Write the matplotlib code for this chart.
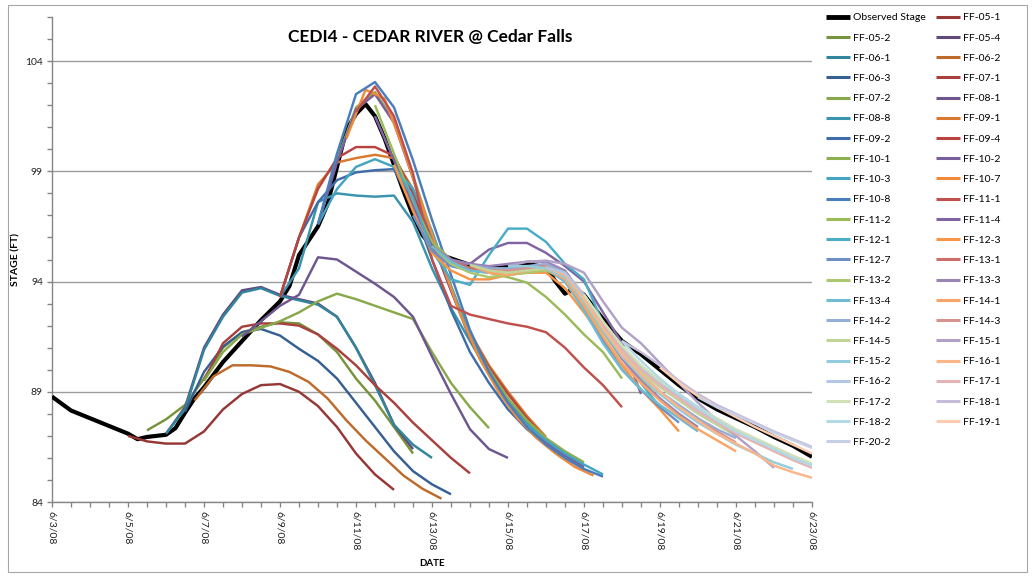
import datetime as dt
import matplotlib
matplotlib.use("Agg")
import matplotlib.pyplot as plt
import matplotlib.dates as mdates
from matplotlib.ticker import FixedLocator, FuncFormatter
from matplotlib.patches import Rectangle

plt.rcParams["font.family"] = ["Lato", "DejaVu Sans"]

# ---------------------------------------------------------------- data
# time axis: days after 6/3/08 00Z
T0 = dt.datetime(2008, 6, 3)
date_ticks_days = [0, 2, 4, 6, 8, 10, 12, 14, 16, 18, 20]
stage_ticks = [84, 89, 94, 99, 104]

obs_days = [0, 0.5, 1, 1.5, 2, 2.25, 2.5, 3, 3.25, 3.5, 3.75, 4, 4.5, 5, 5.5,
            6, 6.25, 6.5, 7, 7.25, 7.5, 7.75, 8, 8.25, 8.5, 8.75, 9, 9.25,
            9.5, 9.75, 10, 10.25, 10.5, 10.75, 11, 11.5, 12, 12.5, 13, 13.25,
            13.5, 13.75, 14, 14.5, 15, 15.5, 16, 16.5, 17, 17.5, 18, 18.5,
            19, 19.5, 20]
obs_stage = [88.78, 88.15, 87.8, 87.45, 87.1, 86.85, 86.95, 87.05, 87.35,
             88.05, 88.7, 89.2, 90.35, 91.3, 92.25, 93.1, 93.8, 95.2, 96.5,
             97.5, 99.2, 100.9, 101.6, 102.05, 101.5, 100.5, 99.3, 98.1,
             97.0, 96.1, 95.6, 95.2, 95.05, 94.9, 94.75, 94.6, 94.7, 94.8,
             94.65, 94.0, 93.45, 93.7, 93.4, 92.3, 91.3, 90.7, 90.0, 89.3,
             88.7, 88.2, 87.8, 87.4, 86.95, 86.55, 86.05]

# forecast runs: first value at ff_start (days after 6/3/08), then every 12 h
ff_names = ["FF-05-1", "FF-05-2", "FF-05-4", "FF-06-1", "FF-06-2", "FF-06-3",
            "FF-07-1", "FF-07-2", "FF-08-1", "FF-08-8", "FF-09-1", "FF-09-2",
            "FF-09-4", "FF-10-1", "FF-10-2", "FF-10-3", "FF-10-7", "FF-10-8",
            "FF-11-1", "FF-11-2", "FF-11-4", "FF-12-1", "FF-12-3", "FF-12-7",
            "FF-13-1", "FF-13-2", "FF-13-3", "FF-13-4", "FF-14-1", "FF-14-2",
            "FF-14-3", "FF-14-5", "FF-15-1", "FF-15-2", "FF-16-1", "FF-16-2",
            "FF-17-1", "FF-17-2", "FF-18-1", "FF-18-2", "FF-19-1", "FF-20-2"]
ff_start = [2.0, 2.5, 3.0, 3.0, 3.75, 3.5,
            4.0, 4.0, 5.0, 6.0, 6.0, 6.0,
            6.0, 7.0, 7.0, 7.0, 7.75, 7.0,
            8.0, 8.5, 8.5, 9.0, 9.0, 9.5,
            10.0, 10.0, 10.0, 10.0, 11.0, 11.0,
            11.0, 11.0, 12.0, 12.0, 13.0, 13.0,
            14.0, 14.0, 15.0, 15.0, 16.0, 17.0]

ff_05_1 = [87.0, 86.75, 86.65, 86.65, 87.2, 88.2, 88.9, 89.3, 89.35, 89.0,
           88.35, 87.4, 86.2, 85.25, 84.55]
ff_05_2 = [87.25, 87.75, 88.4, 89.6, 91.0, 91.7, 91.95, 92.15, 92.1, 91.6,
           90.8, 89.6, 88.6, 87.4, 86.2]
ff_05_4 = [87.1, 88.3, 91.0, 92.5, 93.6, 93.75, 93.4, 93.2, 93.0, 92.4, 91.0,
           89.4, 87.5, 86.4]
ff_06_1 = [87.1, 88.2, 90.9, 92.4, 93.5, 93.7, 93.35, 93.15, 92.95, 92.4,
           91.0, 89.3, 87.5, 86.6, 86.0]
ff_06_2 = [88.6, 89.7, 90.2, 90.2, 90.15, 89.9, 89.45, 88.7, 87.7, 86.8,
           86.0, 85.2, 84.6, 84.15]
ff_06_3 = [88.1, 89.9, 91.05, 91.7, 91.85, 91.55, 90.95, 90.4, 89.6, 88.5,
           87.4, 86.3, 85.4, 84.8, 84.35]
ff_07_1 = [89.5, 91.2, 91.95, 92.1, 92.1, 92.0, 91.6, 90.95, 90.2, 89.3,
           88.5, 87.6, 86.8, 86.0, 85.3]
ff_07_2 = [89.5, 90.8, 91.6, 91.9, 92.2, 92.6, 93.1, 93.45, 93.2, 92.9, 92.6,
           92.3, 90.8, 89.4, 88.3, 87.35]
ff_08_1 = [91.5, 92.2, 92.9, 93.4, 95.1, 95.0, 94.45, 93.9, 93.3, 92.4, 90.6,
           88.9, 87.3, 86.4, 86.0]
ff_08_8 = [93.3, 94.6, 97.6, 98.0, 97.9, 97.85, 97.9, 96.7, 94.6, 92.8, 91.3,
           89.8, 88.6, 87.6, 86.8, 86.2, 85.6]
ff_09_1 = [93.3, 96.0, 98.4, 99.4, 99.6, 99.75, 99.6, 98.2, 95.9, 93.7, 91.7,
           90.2, 89.0, 87.9, 86.95]
ff_09_2 = [93.3, 96.0, 97.6, 98.6, 98.95, 99.05, 99.1, 97.4, 95.0, 92.7, 90.8,
           89.4, 88.2, 87.3, 86.6, 86.0, 85.5]
ff_09_4 = [93.3, 96.0, 98.2, 99.6, 100.1, 100.1, 99.7, 98.0, 95.8, 93.6, 91.6,
           90.1, 88.9, 87.8, 86.85]
ff_10_1 = [96.6, 99.5, 101.9, 102.6, 101.3, 98.8, 96.2, 93.8, 91.6, 90.0,
           88.7, 87.7, 86.9, 86.3, 85.8]
ff_10_2 = [96.6, 99.4, 101.8, 102.5, 101.2, 98.7, 96.0, 93.6, 91.4, 89.8,
           88.5, 87.5, 86.7, 86.1, 85.6]
ff_10_3 = [96.6, 98.2, 99.2, 99.55, 99.2, 98.2, 96.3, 93.8, 91.5, 89.8, 88.5,
           87.5, 86.8, 86.2, 85.7, 85.25]
ff_10_7 = [100.5, 102.7, 102.3, 100.0, 97.4, 94.9, 92.5, 90.5, 89.0, 87.8,
           86.9, 86.2, 85.6, 85.2]
ff_10_8 = [96.6, 99.8, 102.5, 103.05, 101.9, 99.5, 96.8, 94.3, 91.8, 89.9,
           88.5, 87.4, 86.6, 86.0, 85.5, 85.15]
ff_11_1 = [101.7, 102.85, 101.5, 98.9, 95.0, 92.9, 92.5, 92.3, 92.1, 91.95,
           91.7, 91.0, 90.1, 89.3, 88.3]
ff_11_2 = [102.0, 99.8, 97.6, 95.8, 95.0, 94.6, 94.4, 94.2, 93.95, 93.3,
           92.5, 91.6, 90.8, 89.6]
ff_11_4 = [101.5, 99.5, 97.4, 95.6, 94.8, 94.8, 95.45, 95.75, 95.75, 95.3,
           94.7, 94.0, 92.6, 91.2, 88.9]
ff_12_1 = [99.3, 97.8, 95.4, 94.1, 93.85, 95.2, 96.4, 96.4, 95.8, 94.8, 94.1,
           92.1, 90.7, 89.4, 88.3]
ff_12_3 = [99.3, 97.2, 95.3, 94.5, 94.1, 94.1, 94.3, 94.4, 94.4, 93.7, 92.6,
           91.4, 90.2, 89.1, 88.2, 87.2]
ff_12_7 = [97.0, 95.4, 94.7, 94.5, 94.4, 94.5, 94.6, 94.6, 94.0, 92.8, 91.3,
           90.0, 89.1, 88.3, 87.6]
ff_13_1 = [95.6, 95.0, 94.6, 94.5, 94.5, 94.6, 94.7, 94.4, 93.4, 92.0, 90.8,
           89.8, 89.0, 88.3, 87.7]
ff_13_2 = [95.6, 94.8, 94.4, 94.2, 94.3, 94.4, 94.5, 94.1, 93.0, 91.7, 90.5,
           89.6, 88.9, 88.3, 87.8]
ff_13_3 = [95.6, 95.0, 94.8, 94.7, 94.8, 94.9, 94.9, 94.5, 93.3, 91.8, 90.5,
           89.5, 88.7, 88.0, 87.4]
ff_13_4 = [95.6, 94.9, 94.5, 94.4, 94.5, 94.6, 94.6, 94.0, 92.7, 91.2, 90.0,
           89.1, 88.4, 87.8, 87.2]
ff_14_1 = [94.75, 94.4, 94.3, 94.5, 94.6, 94.1, 92.9, 91.5, 90.3, 89.4, 88.6,
           87.9, 87.3, 86.8, 86.3]
ff_14_2 = [94.75, 94.6, 94.6, 94.7, 94.8, 94.4, 93.3, 91.9, 90.7, 89.8, 89.0,
           88.4, 87.8, 87.3, 86.9]
ff_14_3 = [94.75, 94.5, 94.5, 94.6, 94.7, 94.3, 93.2, 91.8, 90.6, 89.7, 89.0,
           88.3, 87.7, 87.2, 86.7]
ff_14_5 = [94.75, 94.5, 94.4, 94.5, 94.6, 94.3, 93.2, 91.9, 90.8, 89.9, 89.2,
           88.6, 88.0, 87.5, 87.0]
ff_15_1 = [94.7, 94.9, 94.95, 94.8, 94.4, 93.1, 91.9, 91.2, 90.3, 89.4, 88.5,
           87.7, 87.0, 86.3, 85.55]
ff_15_2 = [94.7, 94.7, 94.6, 94.2, 93.1, 91.8, 90.6, 89.7, 88.9, 88.2, 87.6,
           87.1, 86.6, 86.2, 85.8, 85.5]
ff_16_1 = [94.65, 94.3, 93.2, 91.9, 90.7, 89.8, 89.0, 88.3, 87.7, 87.1, 86.65,
           86.2, 85.65, 85.35, 85.1]
ff_16_2 = [94.65, 94.4, 93.4, 92.1, 91.0, 90.1, 89.4, 88.8, 88.2, 87.7, 87.2,
           86.8, 86.4, 86.0, 85.7]
ff_17_1 = [93.4, 92.1, 90.9, 90.0, 89.3, 88.7, 88.1, 87.6, 87.1, 86.7, 86.3,
           85.9, 85.55]
ff_17_2 = [93.4, 92.2, 91.1, 90.2, 89.5, 88.9, 88.3, 87.8, 87.3, 86.9, 86.5,
           86.1, 85.75]
ff_18_1 = [91.3, 90.8, 90.2, 89.5, 88.9, 88.4, 88.0, 87.6, 87.2, 86.85, 86.5]
ff_18_2 = [91.3, 90.4, 89.6, 88.9, 88.3, 87.7, 87.2, 86.8, 86.4, 86.0, 85.65]
ff_19_1 = [90.1, 89.4, 88.8, 88.3, 87.85, 87.4, 87.0, 86.6, 86.2]
ff_20_2 = [88.75, 88.3, 87.95, 87.55, 87.15, 86.8, 86.45]

ff_values = [ff_05_1, ff_05_2, ff_05_4, ff_06_1, ff_06_2, ff_06_3,
             ff_07_1, ff_07_2, ff_08_1, ff_08_8, ff_09_1, ff_09_2,
             ff_09_4, ff_10_1, ff_10_2, ff_10_3, ff_10_7, ff_10_8,
             ff_11_1, ff_11_2, ff_11_4, ff_12_1, ff_12_3, ff_12_7,
             ff_13_1, ff_13_2, ff_13_3, ff_13_4, ff_14_1, ff_14_2,
             ff_14_3, ff_14_5, ff_15_1, ff_15_2, ff_16_1, ff_16_2,
             ff_17_1, ff_17_2, ff_18_1, ff_18_2, ff_19_1, ff_20_2]

ff_colors = ["#953735", "#77933C", "#604A7B", "#31859C", "#BD6B2B", "#376092",
             "#A8403D", "#88A94B", "#6E568F", "#3A94AB", "#D9792F", "#3F6DAA",
             "#B9433F", "#8DB050", "#7A5F9E", "#45A5C0", "#EF8A3A", "#4A7EBB",
             "#C0504D", "#9BBB59", "#8064A2", "#4BACC6", "#F79646", "#6E8FC4",
             "#CD6D6A", "#ACC76F", "#9A84B6", "#6FBCD1", "#F9A56A", "#93AFD8",
             "#D79290", "#C0D597", "#B1A0C8", "#93CDDD", "#FAB68A", "#B3C7E3",
             "#E3B4B3", "#D1E0B6", "#C7BCD9", "#B1DAE6", "#FBCDB0", "#C6CFE4"]


def to_dates(days):
    return [T0 + dt.timedelta(days=d) for d in days]


# ---------------------------------------------------------------- figure
W, H, DPI = 1035, 577, 100
fig = plt.figure(figsize=(W / DPI, H / DPI), dpi=DPI)
fig.patch.set_facecolor("white")

# plot area in pixels: x 52..812, y 17..502 (from top)
ax = fig.add_axes([52 / W, 1 - 502 / H, 760 / W, 485 / H])

axis_gray = "#868686"
grid_gray = "#9C9C9C"

handles = []
h_obs, = ax.plot(to_dates(obs_days), obs_stage, color="black", lw=3.0,
                 solid_joinstyle="round", solid_capstyle="butt",
                 label="Observed Stage", zorder=3)
handles.append(h_obs)

for i, (name, start, vals, col) in enumerate(zip(ff_names, ff_start,
                                                  ff_values, ff_colors)):
    days = [start + 0.5 * k for k in range(len(vals))]
    h, = ax.plot(to_dates(days), vals, color=col, lw=1.75,
                 solid_joinstyle="round", solid_capstyle="butt",
                 label=name, zorder=4 + i * 0.01)
    handles.append(h)

ax.set_xlim(T0, T0 + dt.timedelta(days=20))
ax.set_ylim(84, 106)

# y ticks
ax.yaxis.set_major_locator(FixedLocator(stage_ticks))
ax.yaxis.set_minor_locator(FixedLocator(list(range(84, 107))))
ax.grid(axis="y", which="major", color=grid_gray, lw=1.0, zorder=0)
ax.set_axisbelow(True)

# x ticks every 2 days, minor every 12 hours
major_dates = [mdates.date2num(T0 + dt.timedelta(days=d)) for d in date_ticks_days]
minor_dates = [mdates.date2num(T0 + dt.timedelta(hours=12 * k)) for k in range(41)]
ax.xaxis.set_major_locator(FixedLocator(major_dates))
ax.xaxis.set_minor_locator(FixedLocator(minor_dates))


def fmt_date(x, pos=None):
    d = mdates.num2date(x)
    return f"{d.month}/{d.day}/{d:%y}"


ax.xaxis.set_major_formatter(FuncFormatter(fmt_date))

for s in ["top", "right"]:
    ax.spines[s].set_visible(False)
for s in ["left", "bottom"]:
    ax.spines[s].set_color(axis_gray)
    ax.spines[s].set_linewidth(1.0)

ax.tick_params(axis="both", which="both", color=axis_gray, width=1.0,
               direction="out", length=3.5)
ax.tick_params(axis="y", which="major", labelsize=7.5, pad=3, labelcolor="#222222")
ax.tick_params(axis="x", which="major", labelsize=7.5, pad=3, labelcolor="#222222",
               labelrotation=270)
for lab in ax.get_xticklabels():
    lab.set_ha("center")
    lab.set_va("top")

ax.set_ylabel("STAGE (FT)", fontsize=7.5, fontweight="bold")
ax.yaxis.set_label_coords(-0.041, 0.5)
ax.set_xlabel("DATE", fontsize=7, fontweight="bold")
ax.xaxis.set_label_coords(0.5, -0.118)

fig.text(430 / W, 1 - 37 / H, "CEDI4 - CEDAR RIVER @ Cedar Falls",
         ha="center", va="center", fontsize=12.5, fontweight="bold")

# legend, filled row by row in two columns
order = handles[0::2] + handles[1::2]
leg = fig.legend(order, [h.get_label() for h in order], ncol=2,
                 loc="upper left", bbox_to_anchor=(826 / W, 1 - 13 / H),
                 frameon=False, fontsize=7.5, handlelength=2.3,
                 handletextpad=0.3, columnspacing=1.0, labelspacing=1.05,
                 borderpad=0, borderaxespad=0)
for line in leg.get_lines():
    line.set_linewidth(2.2)
leg.get_lines()[0].set_linewidth(3.5)

# chart border
fig.patches.append(Rectangle((8 / W, 1 - 572 / H), (1027 - 8) / W, (572 - 5) / H,
                             transform=fig.transFigure, fill=False,
                             edgecolor="#A6A6A6", lw=0.8))

fig.savefig("out.png", dpi=DPI, facecolor="white")
